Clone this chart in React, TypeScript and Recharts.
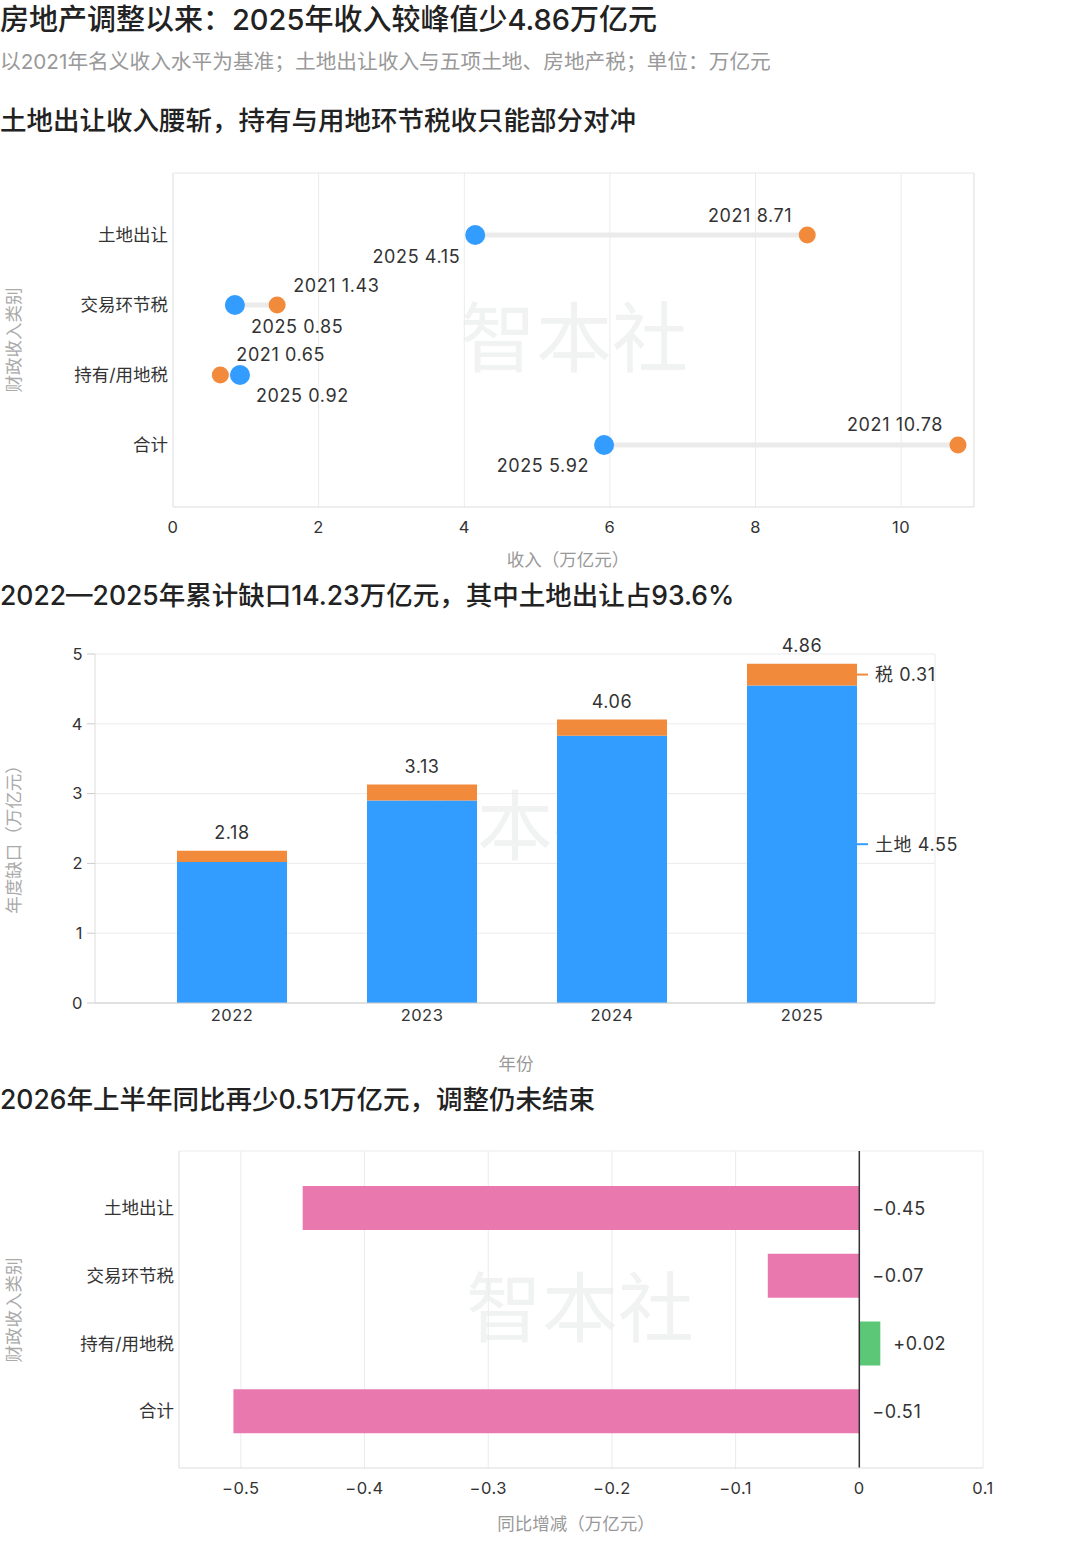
import React from 'react';
import {
  ScatterChart,
  Scatter,
  XAxis,
  YAxis,
  CartesianGrid,
  ReferenceLine,
  BarChart,
  Bar,
  Cell,
  LabelList,
} from 'recharts';

// ---------- data ----------
const categories = ['土地出让', '交易环节税', '持有/用地税', '合计'];
const revenue2021 = [8.71, 1.43, 0.65, 10.78];
const revenue2025 = [4.15, 0.85, 0.92, 5.92];
const changeLabels = ['-52%', '-40%', '+42%', '-45%'];
const xTicks1 = [0, 2, 4, 6, 8, 10];

const gapYears = ['2022', '2023', '2024', '2025'];
const gapLand = [2.02, 2.9, 3.83, 4.55];
const gapTax = [0.16, 0.23, 0.23, 0.31];
const gapTotal = [2.18, 3.13, 4.06, 4.86];
const yTicks2 = [0, 1, 2, 3, 4, 5];

const h1Categories = ['土地出让', '交易环节税', '持有/用地税', '合计'];
const h1Change = [-0.45, -0.074, 0.017, -0.506];
const h1Labels = ['−0.45', '−0.07', '+0.02', '−0.51'];
const xTicks3 = [-0.5, -0.4, -0.3, -0.2, -0.1, 0, 0.1];

// ---------- styles ----------
const FONT = 'Inter, "Noto Sans CJK SC", sans-serif';
const BLUE = '#339dff';
const ORANGE = '#f28a3c';
const PINK = '#e978ae';
const GREEN = '#5cc877';
const GRID = '#ebebeb';

const Y1_MIN = -0.886;
const Y1_MAX = 3.886;

const LBL = { fontSize: 18, fill: '#333', fontFamily: FONT, letterSpacing: 0.6 } as any;

const pts2021 = categories.map((c, i) => ({
  x: revenue2021[i],
  y: i,
  year: '2021',
  left: Math.max(revenue2021[i], revenue2025[i]) > 3,
}));
const pts2025 = categories.map((c, i) => ({
  x: revenue2025[i],
  y: i,
  year: '2025',
  left: Math.max(revenue2021[i], revenue2025[i]) > 3,
}));
const segments = categories.map((c, i) => [
  { x: revenue2025[i], y: i },
  { x: revenue2021[i], y: i },
]);

const gapData = gapYears.map((y, i) => ({ year: y, land: gapLand[i], tax: gapTax[i] }));
const h1Data = h1Categories.map((c, i) => ({ cat: c, value: h1Change[i] }));

const makeDot = (color: string, r: number) => (props: any) => {
  const { cx, cy, payload } = props;
  if (cx == null || cy == null) return <g />;
  const left = payload.left;
  const above = payload.year === '2021';
  return (
    <g>
      <circle cx={cx} cy={cy} r={r} fill={color} />
      <text
        x={left ? cx - 15 : cx + 16}
        y={above ? cy - 20 : cy + 21}
        textAnchor={left ? 'end' : 'start'}
        dominantBaseline="central"
        {...LBL}
      >
        {`${payload.year} ${payload.x.toFixed(2)}`}
      </text>
    </g>
  );
};

const Text = ({ x, y, size, color, weight, children, anchor }: any) => (
  <div
    style={{
      position: 'absolute',
      left: x,
      top: y - size * 0.7,
      lineHeight: `${size * 1.4}px`,
      fontSize: size,
      color,
      fontWeight: weight || 400,
      whiteSpace: 'nowrap',
      transform: anchor === 'center' ? 'translateX(-50%)' : undefined,
    }}
  >
    {children}
  </div>
);

const VText = ({ x, y, size, color, children }: any) => (
  <div
    style={{
      position: 'absolute',
      left: x,
      top: y,
      fontSize: size,
      color,
      lineHeight: `${size + 4}px`,
      whiteSpace: 'nowrap',
      transform: 'translate(-50%, -50%) rotate(-90deg)',
    }}
  >
    {children}
  </div>
);

const Watermark = ({ x, y }: any) => (
  <div
    style={{
      position: 'absolute',
      left: x,
      top: y,
      transform: 'translate(-50%, -50%)',
      fontSize: 76,
      lineHeight: '64px',
      color: '#f1f2f2',
      fontFamily: '"Noto Sans CJK SC", sans-serif',
      whiteSpace: 'nowrap',
    }}
  >
    智本社
  </div>
);

const tickNum = { fontSize: 16.5, fill: '#333', fontFamily: FONT, letterSpacing: 0.5 } as any;
const tickCat = { fontSize: 17.5, fill: '#333', fontFamily: FONT } as any;

export default function App() {
  return (
    <div
      style={{
        position: 'absolute',
        left: 0,
        top: 0,
        width: 1080,
        height: 1553,
        background: '#fff',
        fontFamily: FONT,
        overflow: 'hidden',
      }}
    >
      <Watermark x={574} y={333} />
      <Watermark x={515} y={821} />
      <Watermark x={580} y={1303} />

      <Text x={0} y={20} size={29} color="#222" weight={500}>
        房地产调整以来：2025年收入较峰值少4.86万亿元
      </Text>
      <Text x={0} y={62} size={20.7} color="#999">
        以2021年名义收入水平为基准；土地出让收入与五项土地、房地产税；单位：万亿元
      </Text>
      <Text x={0} y={121} size={26.5} color="#222" weight={500}>
        土地出让收入腰斩，持有与用地环节税收只能部分对冲
      </Text>
      <Text x={0} y={596} size={26.5} color="#222" weight={500}>
        2022—2025年累计缺口14.23万亿元，其中土地出让占93.6%
      </Text>
      <Text x={0} y={1100} size={26.5} color="#222" weight={500}>
        2026年上半年同比再少0.51万亿元，调整仍未结束
      </Text>

      {/* axis titles */}
      <VText x={14} y={340} size={17.5} color="#aaa">财政收入类别</VText>
      <Text x={568} y={560} size={17.5} color="#999" anchor="center">收入（万亿元）</Text>
      <VText x={14} y={835} size={17.5} color="#aaa">年度缺口（万亿元）</VText>
      <Text x={516} y={1064} size={17.5} color="#999" anchor="center">年份</Text>
      <VText x={14} y={1310} size={17.5} color="#aaa">财政收入类别</VText>
      <Text x={576} y={1524} size={17.5} color="#999" anchor="center">同比增减（万亿元）</Text>

      {/* Chart 1: dumbbell */}
      <div style={{ position: 'absolute', left: 0, top: 150 }}>
        <ScatterChart width={1080} height={430} margin={{ top: 23, right: 0, bottom: 43, left: 0 }}>
          <CartesianGrid yAxisId="left" horizontal={false} stroke={GRID} />
          <XAxis
            type="number"
            dataKey="x"
            domain={[0, 11]}
            ticks={xTicks1}
            interval={0}
            height={30}
            tickLine={false}
            tickSize={6}
            tickMargin={8}
            axisLine={{ stroke: '#ddd' }}
            tick={tickNum}
          />
          <YAxis
            yAxisId="left"
            type="number"
            dataKey="y"
            domain={[Y1_MIN, Y1_MAX]}
            reversed
            ticks={[0, 1, 2, 3]}
            interval={0}
            width={173}
            tickFormatter={(v: number) => categories[v] ?? ''}
            tickLine={false}
            tickSize={3}
            tickMargin={2}
            axisLine={{ stroke: '#e6e6e6' }}
            tick={tickCat}
          />
          <YAxis
            yAxisId="right"
            orientation="right"
            type="number"
            domain={[Y1_MIN, Y1_MAX]}
            reversed
            ticks={[0, 1, 2, 3]}
            interval={0}
            width={106}
            tickFormatter={(v: number) => changeLabels[v] ?? ''}
            tickLine={false}
            axisLine={false}
            tickSize={6}
            tickMargin={7}
            tick={{ fontSize: 17, fill: '#999', fontFamily: FONT, letterSpacing: 0.4 } as any}
          />
          <ReferenceLine yAxisId="left" y={Y1_MIN} stroke="#e6e6e6" />
          <ReferenceLine yAxisId="left" x={11} stroke="#e6e6e6" />
          {segments.map((seg, i) => (
            <Scatter
              key={`seg${i}`}
              yAxisId="left"
              data={seg}
              line={{ stroke: '#ebebeb', strokeWidth: 5 }}
              shape={() => <g />}
              isAnimationActive={false}
            />
          ))}
          <Scatter yAxisId="left" data={pts2021} shape={makeDot(ORANGE, 8.5)} isAnimationActive={false} />
          <Scatter yAxisId="left" data={pts2025} shape={makeDot(BLUE, 10)} isAnimationActive={false} />
        </ScatterChart>
      </div>

      {/* Chart 2: stacked bars */}
      <div style={{ position: 'absolute', left: 0, top: 620 }}>
        <BarChart width={1080} height={420} data={gapData} margin={{ top: 34, right: 145, bottom: 7, left: 0 }}>
          <CartesianGrid
            stroke={GRID}
            verticalCoordinatesGenerator={(p: any) => (p && p.offset ? [p.offset.left + p.offset.width] : [])}
          />
          <XAxis
            dataKey="year"
            padding={{ left: 42, right: 38 }}
            height={30}
            tickLine={false}
            tickSize={0}
            tickMargin={6}
            axisLine={{ stroke: '#ccc' }}
            tick={tickNum}
          />
          <YAxis
            type="number"
            domain={[0, 5]}
            ticks={yTicks2}
            interval={0}
            width={95}
            tickSize={8}
            tickMargin={4}
            tickLine={{ stroke: '#ccc' }}
            axisLine={{ stroke: '#ddd' }}
            tick={tickNum}
          />
          <Bar dataKey="land" stackId="s" fill={BLUE} barSize={110} isAnimationActive={false}>
            <LabelList
              dataKey="land"
              content={(p: any) => {
                if (p.index !== gapYears.length - 1) return null;
                const xe = p.x + p.width;
                const ym = p.y + p.height / 2;
                return (
                  <g>
                    <line x1={xe} x2={xe + 11} y1={ym} y2={ym} stroke={BLUE} strokeWidth={2} />
                    <text x={xe + 18} y={ym} dominantBaseline="central" {...LBL}>
                      {`土地 ${gapLand[p.index].toFixed(2)}`}
                    </text>
                  </g>
                );
              }}
            />
          </Bar>
          <Bar dataKey="tax" stackId="s" fill={ORANGE} barSize={110} isAnimationActive={false}>
            <LabelList
              dataKey="tax"
              content={(p: any) => {
                const cx = p.x + p.width / 2;
                const last = p.index === gapYears.length - 1;
                const xe = p.x + p.width;
                const ym = p.y + p.height / 2;
                return (
                  <g>
                    <text x={cx} y={p.y - 18} textAnchor="middle" dominantBaseline="central" {...LBL}>
                      {gapTotal[p.index].toFixed(2)}
                    </text>
                    {last ? (
                      <g>
                        <line x1={xe} x2={xe + 11} y1={ym} y2={ym} stroke={ORANGE} strokeWidth={2} />
                        <text x={xe + 18} y={ym} dominantBaseline="central" {...LBL}>
                          {`税 ${gapTax[p.index].toFixed(2)}`}
                        </text>
                      </g>
                    ) : null}
                  </g>
                );
              }}
            />
          </Bar>
        </BarChart>
      </div>

      {/* Chart 3: horizontal bars */}
      <div style={{ position: 'absolute', left: 0, top: 1130 }}>
        <BarChart width={1080} height={390} data={h1Data} layout="vertical" margin={{ top: 21, right: 97, bottom: 22, left: 0 }}>
          <CartesianGrid
            stroke={GRID}
            horizontalCoordinatesGenerator={(p: any) => (p && p.offset ? [p.offset.top] : [])}
          />
          <XAxis
            type="number"
            domain={[-0.55, 0.1]}
            ticks={xTicks3}
            interval={0}
            height={30}
            tickLine={false}
            tickSize={6}
            tickMargin={8}
            axisLine={{ stroke: '#ddd' }}
            tickFormatter={(v: number) => (v === 0 ? '0' : v < 0 ? `−${Math.abs(v)}` : String(v))}
            tick={tickNum}
          />
          <YAxis
            type="category"
            dataKey="cat"
            padding={{ top: 23, bottom: 23 }}
            width={179}
            tickLine={false}
            tickSize={3}
            tickMargin={2}
            axisLine={{ stroke: '#e6e6e6' }}
            tick={tickCat}
          />
          <Bar dataKey="value" barSize={44} isAnimationActive={false}>
            {h1Data.map((d, i) => (
              <Cell key={i} fill={d.value < 0 ? PINK : GREEN} />
            ))}
            <LabelList
              dataKey="value"
              content={(p: any) => {
                const xe = Math.max(p.x, p.x + p.width);
                return (
                  <text x={xe + 13} y={p.y + p.height / 2} dominantBaseline="central" {...LBL}>
                    {h1Labels[p.index]}
                  </text>
                );
              }}
            />
          </Bar>
          <ReferenceLine x={0} stroke="#333" strokeWidth={1.5} />
        </BarChart>
      </div>
    </div>
  );
}
